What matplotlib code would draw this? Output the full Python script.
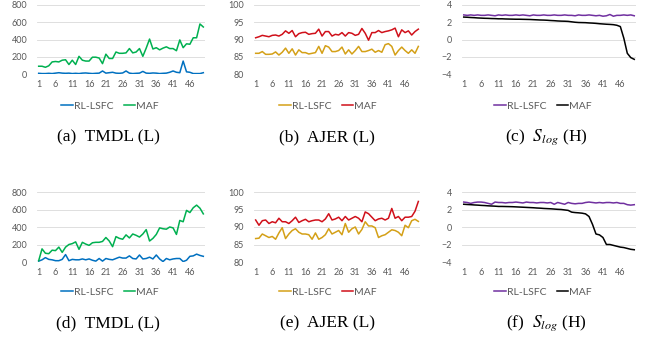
import numpy as np
import matplotlib
matplotlib.use("Agg")
import matplotlib.pyplot as plt
from matplotlib.ticker import FixedLocator

# x axis: 50 episodes
episodes = list(range(1, 51))
xtick_labels = [1, 6, 11, 16, 21, 26, 31, 36, 41, 46]

# --- top row ---
tmdl_rl_top = [8, 5, 5, 8, 5, 10, 15, 10, 8, 10, 5, 8, 5, 10, 12, 8, 5, 8, 10, 35,
               10, 15, 20, 10, 8, 12, 35, 10, 5, 8, 10, 30, 10, 8, 12, 10, 5, 8, 10, 20,
               35, 20, 15, 150, 25, 20, 5, 5, 5, 15]
tmdl_maf_top = [90, 90, 78, 95, 140, 145, 140, 160, 165, 110, 160, 110, 205, 160, 150, 150, 195, 195, 185, 120,
                230, 180, 180, 255, 240, 240, 245, 295, 245, 255, 295, 205, 300, 405, 290, 305, 280, 300, 315, 295,
                295, 270, 395, 305, 350, 345, 420, 420, 580, 545]

ajer_rl_top = [86.0, 86.0, 86.5, 85.7, 85.7, 85.8, 86.4, 85.5, 86.3, 87.5, 86.0, 87.3, 85.5, 87.0, 86.2, 86.2, 85.8, 86.0, 86.2, 88.0,
               86.0, 88.2, 87.8, 86.5, 86.5, 86.8, 87.8, 85.8, 87.0, 85.8, 86.8, 88.0, 86.5, 86.5, 86.8, 87.2, 86.3, 86.8, 86.3, 88.5,
               88.8, 88.0, 85.5, 86.8, 87.8, 86.8, 86.0, 87.0, 86.0, 88.0]
ajer_maf_top = [90.5, 90.8, 91.2, 91.0, 90.8, 91.2, 91.3, 91.0, 91.5, 92.5, 91.8, 92.6, 90.8, 91.7, 92.0, 92.1, 91.5, 91.7, 91.8, 93.0,
                91.0, 92.3, 92.3, 91.0, 91.5, 91.3, 92.0, 91.0, 92.0, 91.8, 91.2, 91.5, 93.2, 91.8, 89.8, 92.0, 92.0, 92.6, 92.0, 92.3,
                92.5, 92.8, 93.3, 90.8, 92.8, 92.0, 92.5, 91.3, 92.3, 93.0]

slog_rl_top = [2.85, 2.8, 2.85, 2.8, 2.85, 2.8, 2.8, 2.85, 2.8, 2.75, 2.85, 2.8, 2.85, 2.8, 2.8, 2.85, 2.8, 2.85, 2.8, 2.75,
               2.85, 2.8, 2.8, 2.85, 2.8, 2.8, 2.85, 2.8, 2.8, 2.85, 2.8, 2.8, 2.75, 2.85, 2.8, 2.8, 2.85, 2.8, 2.75, 2.8,
               2.7, 2.75, 2.9, 2.7, 2.8, 2.8, 2.85, 2.8, 2.85, 2.75]
slog_maf_top = [2.6, 2.58, 2.55, 2.53, 2.5, 2.48, 2.46, 2.45, 2.43, 2.42, 2.4, 2.4, 2.38, 2.37, 2.36, 2.35, 2.35, 2.34, 2.33, 2.32,
                2.3, 2.28, 2.26, 2.25, 2.23, 2.2, 2.18, 2.15, 2.13, 2.12, 2.1, 2.05, 2.0, 1.97, 1.96, 1.95, 1.92, 1.9, 1.87, 1.83,
                1.8, 1.77, 1.75, 1.72, 1.65, 1.5, 0.15, -1.6, -2.1, -2.3]

# --- bottom row ---
tmdl_rl_bot = [10, 25, 50, 30, 25, 15, 15, 30, 85, 15, 30, 25, 25, 35, 25, 35, 20, 10, 40, 10,
               40, 30, 25, 40, 55, 45, 45, 70, 40, 35, 80, 35, 40, 55, 35, 80, 35, 5, 40, 25,
               35, 40, 40, 5, 20, 65, 70, 90, 75, 65]
tmdl_maf_bot = [15, 150, 100, 95, 135, 130, 170, 110, 170, 200, 210, 230, 145, 225, 205, 190, 220, 225, 225, 235,
                280, 240, 175, 290, 270, 260, 310, 275, 320, 305, 285, 320, 370, 240, 270, 315, 390, 380, 375, 400,
                390, 315, 475, 460, 590, 565, 620, 650, 615, 550]

ajer_rl_bot = [86.7, 86.8, 88.0, 87.5, 87.0, 87.3, 86.5, 88.3, 89.8, 86.7, 88.0, 89.0, 89.5, 88.5, 88.0, 88.0, 87.8, 86.5, 88.3, 86.5,
               87.0, 87.8, 89.5, 88.0, 88.5, 89.0, 87.8, 91.0, 88.5, 89.5, 90.0, 88.0, 89.3, 91.5, 90.3, 90.3, 89.8, 87.0, 87.5, 87.8,
               88.5, 89.2, 89.0, 88.5, 87.5, 90.5, 89.8, 91.8, 92.2, 91.6]
ajer_maf_bot = [92.0, 90.5, 91.8, 92.0, 91.0, 91.5, 91.2, 92.5, 91.5, 91.5, 91.0, 91.8, 92.8, 91.3, 91.8, 92.2, 91.5, 91.8, 92.0, 92.0,
                91.5, 92.3, 93.8, 92.0, 92.3, 92.8, 91.8, 93.0, 92.0, 92.5, 93.0, 92.5, 91.5, 94.3, 93.8, 92.8, 91.8, 92.3, 92.5, 92.0,
                92.5, 95.3, 92.5, 93.0, 91.8, 92.8, 92.8, 93.0, 94.5, 97.3]

slog_rl_bot = [2.85, 2.8, 2.7, 2.8, 2.85, 2.85, 2.8, 2.7, 2.6, 2.85, 2.8, 2.8, 2.75, 2.8, 2.8, 2.85, 2.8, 2.75, 2.85, 2.8,
               2.8, 2.75, 2.8, 2.8, 2.75, 2.8, 2.6, 2.8, 2.7, 2.6, 2.8, 2.7, 2.65, 2.7, 2.7, 2.8, 2.85, 2.8, 2.75, 2.8,
               2.75, 2.8, 2.8, 2.75, 2.8, 2.7, 2.7, 2.55, 2.5, 2.55]
slog_maf_bot = [2.6, 2.57, 2.55, 2.52, 2.5, 2.47, 2.45, 2.42, 2.4, 2.38, 2.35, 2.35, 2.34, 2.33, 2.32, 2.3, 2.28, 2.26, 2.24, 2.22,
                2.2, 2.17, 2.15, 2.12, 2.1, 2.08, 2.05, 2.02, 2.0, 1.95, 1.9, 1.7, 1.65, 1.62, 1.58, 1.5, 1.2, 0.3, -0.8, -0.9,
                -1.2, -2.0, -2.0, -2.1, -2.2, -2.3, -2.35, -2.45, -2.55, -2.6]

series_labels = ["RL-LSFC", "MAF"]
captions_top = ["(a)  TMDL (L)", "(b)  AJER (L)", "(c)  $S_{log}$ (H)"]
captions_bot = ["(d)  TMDL (L)", "(e)  AJER (L)", "(f)  $S_{log}$ (H)"]

panels_top = [(tmdl_rl_top, tmdl_maf_top), (ajer_rl_top, ajer_maf_top), (slog_rl_top, slog_maf_top)]
panels_bot = [(tmdl_rl_bot, tmdl_maf_bot), (ajer_rl_bot, ajer_maf_bot), (slog_rl_bot, slog_maf_bot)]

colors = [("#0070C0", "#00B050"), ("#D4A017", "#D0101A"), ("#7030A0", "#000000")]
ylims = [(0, 800), (80, 100), (-4, 4)]
yticks = [[0, 200, 400, 600, 800], [80, 85, 90, 95, 100], [-4, -2, 0, 2, 4]]

W, H = 652, 347
plt.rcParams["font.family"] = ["Lato", "DejaVu Sans"]
plt.rcParams["mathtext.fontset"] = "stix"
fig = plt.figure(figsize=(W / 100, H / 100), dpi=100)

# axes boxes in pixels: left, right
cols_px = [(37, 205), (254, 420), (462, 636)]
legend_cx = [110, 328, 543]
caption_cx = [108, 327, 546]
rows_px = [(5, 74), (192, 262)]
legend_y = [106, 292]
caption_y = [137, 323]


def draw(ax, rl, maf, i, legend_yp):
    c_rl, c_maf = colors[i]
    ax.plot(episodes, rl, color=c_rl, lw=1.1, label=series_labels[0])
    ax.plot(episodes, maf, color=c_maf, lw=1.1, label=series_labels[1])
    ax.set_xlim(0.5, 50.5)
    ax.set_ylim(*ylims[i])
    ax.set_yticks(yticks[i])
    ax.xaxis.set_major_locator(FixedLocator(xtick_labels))
    ax.set_xticklabels([str(t) for t in xtick_labels])
    ax.grid(axis="y", color="#D9D9D9", lw=0.6)
    ax.set_axisbelow(True)
    for s in ax.spines.values():
        s.set_visible(False)
    ax.tick_params(length=0, labelsize=6.5, labelcolor="#595959", pad=4)
    ax.tick_params(axis="y", pad=7)
    leg = fig.legend(handles=ax.get_lines(), loc="center", ncol=2, frameon=False,
                     bbox_to_anchor=(legend_cx[i] / W, 1 - legend_yp / H),
                     fontsize=7.5, handlelength=1.1, handletextpad=0.1, columnspacing=1.0)
    for t in leg.get_texts():
        t.set_color("#595959")


for r, (panels, caps) in enumerate([(panels_top, captions_top), (panels_bot, captions_bot)]):
    top, bot = rows_px[r]
    for i, (rl, maf) in enumerate(panels):
        l, rt = cols_px[i]
        ax = fig.add_axes([l / W, 1 - bot / H, (rt - l) / W, (bot - top) / H])
        draw(ax, rl, maf, i, legend_y[r])
        fig.text(caption_cx[i] / W, 1 - caption_y[r] / H, caps[i], ha="center", va="center",
                 fontsize=12.5, family="Liberation Serif")

fig.savefig("out.png", dpi=100)
